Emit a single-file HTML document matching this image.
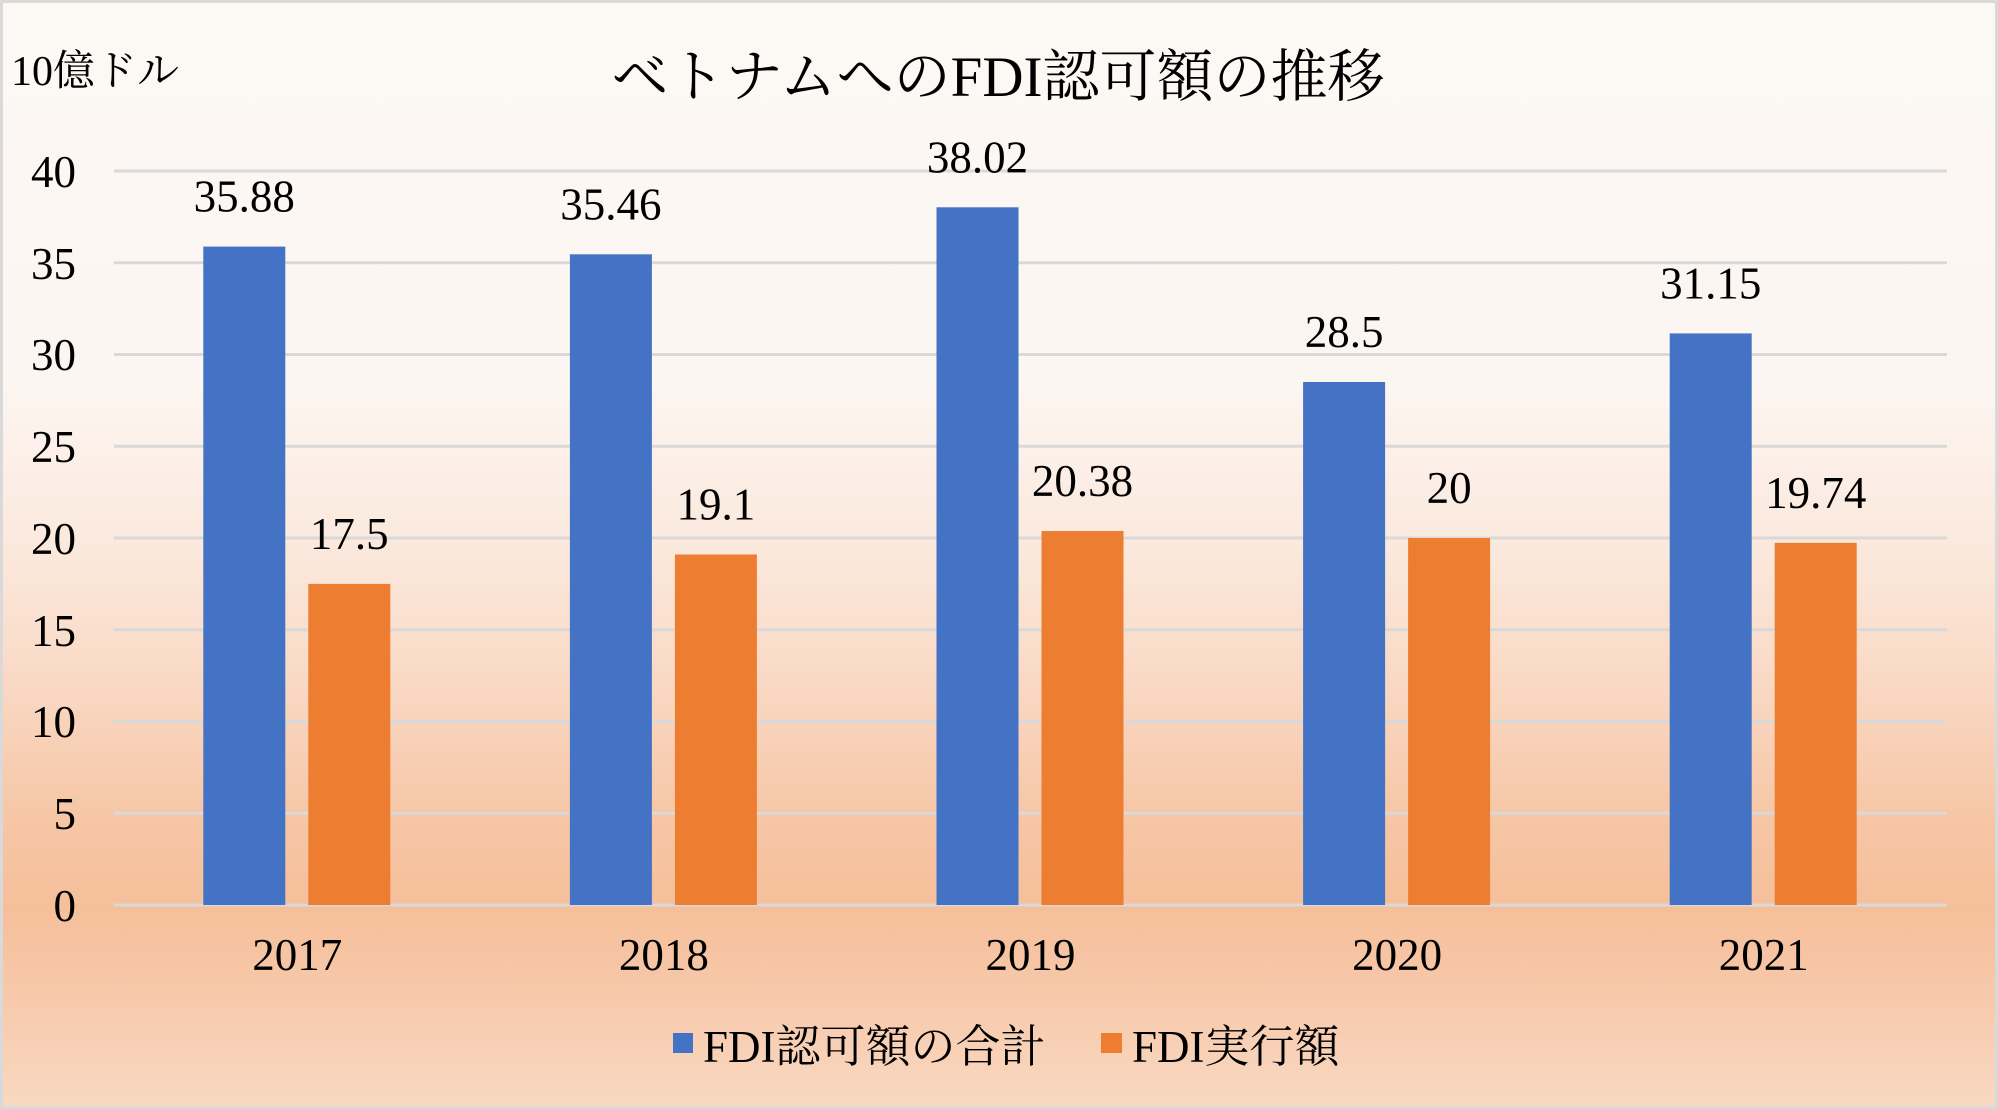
<!DOCTYPE html>
<html><head><meta charset="utf-8"><style>
html,body{margin:0;padding:0;background:#fff;}
svg{display:block;}
text{font-family:"Liberation Serif","Noto Serif CJK SC",serif;fill:#000;}
</style></head><body>
<svg width="1998" height="1109" viewBox="0 0 1998 1109" xmlns="http://www.w3.org/2000/svg">
<defs>
<linearGradient id="bg" x1="0" y1="0" x2="0" y2="1">
<stop offset="0" stop-color="#FCF8F4"/>
<stop offset="0.34" stop-color="#FCF6F2"/>
<stop offset="0.5" stop-color="#FBE8DC"/>
<stop offset="0.62" stop-color="#F9D8C3"/>
<stop offset="0.74" stop-color="#F6C6A5"/>
<stop offset="0.82" stop-color="#F5BF9A"/>
<stop offset="0.9" stop-color="#F7C9AB"/>
<stop offset="1" stop-color="#F9D9C2"/>
</linearGradient>
</defs>
<rect x="0" y="0" width="1998" height="1109" fill="url(#bg)"/>
<rect x="1.5" y="1.5" width="1995" height="1106" fill="none" stroke="#D9D9D9" stroke-width="3"/>

<!-- gridlines -->
<g stroke="#D9D9D9" stroke-width="3">
<line x1="114" x2="1947" y1="171" y2="171"/>
<line x1="114" x2="1947" y1="262.75" y2="262.75"/>
<line x1="114" x2="1947" y1="354.5" y2="354.5"/>
<line x1="114" x2="1947" y1="446.25" y2="446.25"/>
<line x1="114" x2="1947" y1="538" y2="538"/>
<line x1="114" x2="1947" y1="629.75" y2="629.75"/>
<line x1="114" x2="1947" y1="721.5" y2="721.5"/>
<line x1="114" x2="1947" y1="813.25" y2="813.25"/>
<line x1="114" x2="1947" y1="905" y2="905"/>
</g>

<!-- y labels -->
<g font-size="45" text-anchor="end">
<text x="76" y="187">40</text>
<text x="76" y="279">35</text>
<text x="76" y="370">30</text>
<text x="76" y="462">25</text>
<text x="76" y="554">20</text>
<text x="76" y="646">15</text>
<text x="76" y="737">10</text>
<text x="76" y="829">5</text>
<text x="76" y="921">0</text>
</g>

<!-- bars blue -->
<g fill="#4472C4">
<rect x="203.3" y="246.6" width="82" height="658.4"/>
<rect x="569.9" y="254.3" width="82" height="650.7"/>
<rect x="936.5" y="207.3" width="82" height="697.7"/>
<rect x="1303.1" y="382" width="82" height="523"/>
<rect x="1669.7" y="333.4" width="82" height="571.6"/>
</g>
<!-- bars orange -->
<g fill="#ED7D31">
<rect x="308.3" y="583.9" width="82" height="321.1"/>
<rect x="674.9" y="554.5" width="82" height="350.5"/>
<rect x="1041.5" y="531" width="82" height="374"/>
<rect x="1408.1" y="538" width="82" height="367"/>
<rect x="1774.7" y="542.8" width="82" height="362.2"/>
</g>

<!-- data labels -->
<g font-size="45" text-anchor="middle">
<text x="244.3" y="211.6">35.88</text>
<text x="610.9" y="219.3">35.46</text>
<text x="977.5" y="172.3">38.02</text>
<text x="1344.1" y="347">28.5</text>
<text x="1710.7" y="298.4">31.15</text>
<text x="349.3" y="548.9">17.5</text>
<text x="715.9" y="519.5">19.1</text>
<text x="1082.5" y="496">20.38</text>
<text x="1449.1" y="503">20</text>
<text x="1815.7" y="507.8">19.74</text>
</g>

<!-- x labels -->
<g font-size="45" text-anchor="middle">
<text x="297.3" y="970">2017</text>
<text x="663.9" y="970">2018</text>
<text x="1030.5" y="970">2019</text>
<text x="1397.1" y="970">2020</text>
<text x="1763.7" y="970">2021</text>
</g>

<!-- title -->
<text x="998" y="96" font-size="57" text-anchor="middle">ベトナムへのFDI認可額の推移</text>

<!-- unit -->
<text x="11" y="85" font-size="42">10億ドル</text>

<!-- legend -->
<rect x="673" y="1033" width="20" height="20" fill="#4472C4"/>
<text x="703" y="1062" font-size="45">FDI認可額の合計</text>
<rect x="1101" y="1033" width="21" height="20" fill="#ED7D31"/>
<text x="1132" y="1062" font-size="45">FDI実行額</text>
</svg>
</body></html>
